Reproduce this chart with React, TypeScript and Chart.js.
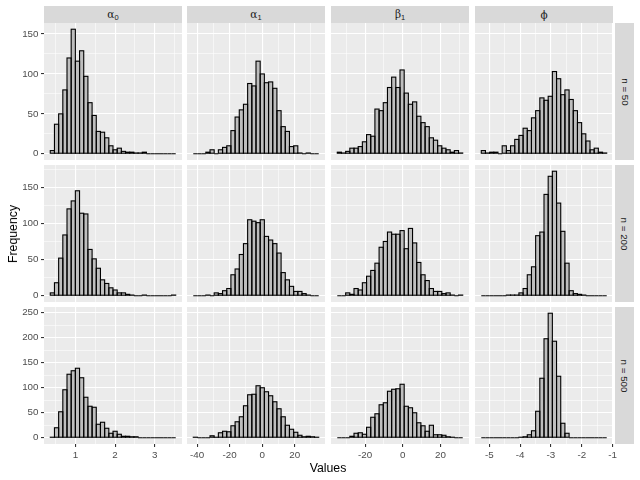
import React, { useEffect, useRef } from "react";
import { Chart, registerables } from "chart.js";

Chart.register(...registerables);

// ---------------- Data ----------------
const PARAM_SYMBOLS = ["α", "α", "β", "ϕ"];
const PARAM_SUBSCRIPTS = ["0", "1", "1", ""];
const SAMPLE_SIZES = ["n = 50", "n = 200", "n = 500"];
const X_TITLE = "Values";
const Y_TITLE = "Frequency";

// histogram bins per column (30 bins each)
const BIN_START = [0.364, -42.4, -34.8, -5.263];
const BIN_WIDTH = [0.1056, 2.573, 2.222, 0.1358];
const X_BREAK_STEP = [1, 20, 20, 1];
const Y_BREAK_STEP = [50, 50, 50];

const ALPHA0_N50 = [4, 37, 50, 80, 120, 156, 116, 129, 97, 64, 48, 28, 27, 20, 10, 5, 7, 3, 2, 2, 1, 1, 2, 0, 0, 0, 0, 0, 0, 0];
const ALPHA1_N50 = [0, 0, 0, 2, 5, 0, 5, 8, 10, 29, 46, 55, 62, 88, 85, 116, 100, 89, 90, 82, 54, 34, 28, 9, 10, 1, 0, 1, 0, 0];
const BETA1_N50 = [2, 1, 3, 7, 7, 9, 15, 24, 22, 56, 54, 64, 83, 96, 83, 105, 76, 62, 65, 47, 39, 34, 20, 17, 10, 7, 5, 2, 4, 1];
const PHI_N50 = [4, 1, 2, 2, 0, 10, 4, 10, 18, 23, 32, 29, 45, 54, 70, 67, 72, 103, 94, 74, 80, 68, 54, 39, 25, 16, 5, 7, 2, 1];

const ALPHA0_N200 = [4, 18, 52, 84, 120, 131, 145, 114, 113, 64, 51, 38, 22, 17, 11, 8, 4, 4, 2, 1, 0, 0, 1, 0, 0, 0, 0, 0, 0, 1];
const ALPHA1_N200 = [0, 0, 0, 1, 0, 4, 3, 7, 10, 29, 37, 57, 72, 105, 103, 101, 105, 82, 77, 72, 59, 32, 22, 13, 6, 6, 3, 1, 0, 0];
const BETA1_N200 = [0, 0, 4, 2, 10, 8, 18, 27, 35, 45, 67, 75, 88, 85, 85, 90, 65, 93, 73, 46, 29, 21, 10, 6, 6, 3, 4, 1, 0, 1];
const PHI_N200 = [0, 0, 0, 0, 0, 0, 1, 1, 1, 4, 10, 29, 40, 83, 88, 140, 165, 172, 128, 89, 45, 7, 3, 2, 1, 0, 0, 0, 0, 0];

const ALPHA0_N500 = [1, 20, 52, 96, 127, 134, 139, 120, 81, 63, 61, 27, 31, 19, 9, 13, 7, 3, 3, 2, 2, 0, 0, 0, 0, 0, 0, 0, 0, 0];
const ALPHA1_N500 = [1, 0, 0, 0, 4, 1, 10, 13, 12, 24, 32, 42, 64, 86, 87, 104, 100, 92, 84, 72, 58, 42, 25, 17, 11, 5, 2, 3, 2, 1];
const BETA1_N500 = [0, 0, 0, 3, 9, 10, 7, 21, 41, 48, 66, 70, 93, 97, 98, 107, 63, 60, 50, 30, 24, 13, 25, 6, 6, 5, 2, 1, 0, 0];
const PHI_N500 = [0, 0, 0, 0, 0, 0, 0, 0, 0, 1, 2, 6, 14, 53, 119, 198, 249, 193, 123, 29, 9, 0, 0, 0, 0, 0, 0, 0, 0, 0];

const COUNTS = [
  [ALPHA0_N50, ALPHA1_N50, BETA1_N50, PHI_N50],
  [ALPHA0_N200, ALPHA1_N200, BETA1_N200, PHI_N200],
  [ALPHA0_N500, ALPHA1_N500, BETA1_N500, PHI_N500],
];

// ---------------- Layout ----------------
const COL_LEFT = [44, 187, 331, 475];
const PANEL_W = 138;
const ROW_TOP = [23, 165, 307];
const PANEL_H = 137;
const Y_AXIS_W = 44;
const X_AXIS_H = 22;
const RIGHT_EXTRA = 8;

const SANS = "'Liberation Sans', Arial, Helvetica, sans-serif";
const GREEK = "'DejaVu Serif', 'Liberation Serif', serif";
const TICK_FONT = { family: SANS, size: 9.8 };

const panelBg = {
  id: "panelBg",
  beforeDraw(chart: any) {
    const { ctx, chartArea: a } = chart;
    ctx.save();
    ctx.fillStyle = "#EBEBEB";
    ctx.fillRect(a.left, a.top, a.right - a.left, a.bottom - a.top);
    ctx.restore();
  },
};

// ggplot-like centred outline around every bar element laid out by Chart.js
const barOutline = {
  id: "barOutline",
  afterDatasetsDraw(chart: any) {
    const { ctx } = chart;
    const meta = chart.getDatasetMeta(0);
    ctx.save();
    ctx.strokeStyle = "#000000";
    ctx.lineWidth = 1.1;
    meta.data.forEach((el: any) => {
      const { x, y, base, width } = el.getProps(["x", "y", "base", "width"], true);
      ctx.strokeRect(x - width / 2, Math.min(y, base), width, Math.abs(base - y));
    });
    ctx.restore();
  },
};

function breaks(min: number, max: number, step: number) {
  const half = step / 2;
  const out: number[] = [];
  for (let k = Math.ceil(min / half); k * half <= max; k++) out.push(k * half);
  return out;
}
const isMajor = (v: number, step: number) => Math.abs(v / step - Math.round(v / step)) < 1e-6;

function Panel({ col, row }: { col: number; row: number }) {
  const ref = useRef<HTMLCanvasElement>(null);
  const leftAxis = col === 0;
  const bottomAxis = row === 2;
  const extraRight = col === 3 && row === 2 ? RIGHT_EXTRA : 0;
  const width = PANEL_W + (leftAxis ? Y_AXIS_W : 0) + extraRight;
  const height = PANEL_H + (bottomAxis ? X_AXIS_H : 0);
  const left = COL_LEFT[col] - (leftAxis ? Y_AXIS_W : 0);
  const top = ROW_TOP[row];

  useEffect(() => {
    const counts = COUNTS[row][col];
    const start = BIN_START[col];
    const bw = BIN_WIDTH[col];
    const range = bw * counts.length;
    const xMin = start - 0.05 * range;
    const xMax = start + 1.05 * range;
    const rowMax = Math.max(...COUNTS[row].map((a) => Math.max(...a)));
    const yMin = -0.05 * rowMax;
    const yMax = 1.05 * rowMax;
    const xStep = X_BREAK_STEP[col];
    const yStep = Y_BREAK_STEP[row];
    const xTicks = breaks(xMin, xMax, xStep);
    const yTicks = breaks(yMin, yMax, yStep);

    const chart = new Chart(ref.current!, {
      type: "bar",
      data: {
        datasets: [
          {
            data: counts.map((c, i) => ({ x: start + bw * (i + 0.5), y: c })),
            backgroundColor: "#BEBEBE",
            borderWidth: 0,
            borderSkipped: false,
            inflateAmount: 0,
            barPercentage: 1,
            categoryPercentage: 1,
          } as any,
        ],
      },
      options: {
        responsive: false,
        animation: false,
        devicePixelRatio: 1,
        layout: { padding: { left: 0, top: 0, bottom: 0, right: extraRight } },
        plugins: { legend: { display: false }, tooltip: { enabled: false } },
        scales: {
          x: {
            type: "linear",
            min: xMin,
            max: xMax,
            offset: false,
            border: { display: false },
            grid: {
              offset: false,
              drawTicks: bottomAxis,
              tickLength: 3,
              color: "#FFFFFF",
              lineWidth: (ctx: any) => (isMajor(ctx.tick?.value ?? 0, xStep) ? 1.1 : 0.55),
              tickColor: (ctx: any) => (isMajor(ctx.tick?.value ?? 0, xStep) ? "#333333" : "rgba(0,0,0,0)"),
              tickWidth: 1.1,
            },
            ticks: {
              display: bottomAxis,
              autoSkip: false,
              maxRotation: 0,
              minRotation: 0,
              padding: 2.5,
              color: "#4D4D4D",
              font: TICK_FONT,
              callback: (v: any) => (isMajor(Number(v), xStep) ? String(Math.round(Number(v))) : ""),
            },
            afterBuildTicks: (s: any) => {
              s.ticks = xTicks.map((v) => ({ value: v }));
            },
            afterFit: (s: any) => {
              s.height = bottomAxis ? X_AXIS_H : 0;
              s.paddingLeft = 0;
              s.paddingRight = 0;
              s.paddingTop = 0;
              s.paddingBottom = 0;
            },
          },
          y: {
            type: "linear",
            min: yMin,
            max: yMax,
            border: { display: false },
            grid: {
              drawTicks: leftAxis,
              tickLength: 3,
              color: "#FFFFFF",
              lineWidth: (ctx: any) => (isMajor(ctx.tick?.value ?? 0, yStep) ? 1.1 : 0.55),
              tickColor: (ctx: any) => (isMajor(ctx.tick?.value ?? 0, yStep) ? "#333333" : "rgba(0,0,0,0)"),
              tickWidth: 1.1,
            },
            ticks: {
              display: leftAxis,
              autoSkip: false,
              padding: 2.5,
              color: "#4D4D4D",
              font: TICK_FONT,
              callback: (v: any) => (isMajor(Number(v), yStep) ? String(Math.round(Number(v))) : ""),
            },
            afterBuildTicks: (s: any) => {
              s.ticks = yTicks.map((v) => ({ value: v }));
            },
            afterFit: (s: any) => {
              s.width = leftAxis ? Y_AXIS_W : 0;
              s.paddingLeft = 0;
              s.paddingRight = 0;
              s.paddingTop = 0;
              s.paddingBottom = 0;
            },
          },
        },
      } as any,
      plugins: [panelBg, barOutline],
    });
    return () => chart.destroy();
  }, [col, row]);

  return (
    <canvas
      ref={ref}
      width={width}
      height={height}
      style={{ position: "absolute", left, top, width, height }}
    />
  );
}

export default function App() {
  const panels = [];
  for (let r = 0; r < 3; r++) for (let c = 0; c < 4; c++) panels.push(<Panel key={`${r}-${c}`} col={c} row={r} />);
  return (
    <div
      style={{
        position: "absolute",
        left: 0,
        top: 0,
        width: 640,
        height: 480,
        background: "#FFFFFF",
        fontFamily: SANS,
        overflow: "hidden",
      }}
    >
      {PARAM_SYMBOLS.map((s, c) => (
        <div
          key={"ts" + c}
          style={{
            position: "absolute",
            left: COL_LEFT[c],
            top: 6,
            width: PANEL_W,
            height: 17,
            background: "#D9D9D9",
            color: "#1A1A1A",
            display: "flex",
            alignItems: "center",
            justifyContent: "center",
            fontSize: 10.5,
            fontFamily: GREEK,
          }}
        >
          <span>
            {s}
            {PARAM_SUBSCRIPTS[c] ? (
              <span style={{ fontSize: 7.5, fontFamily: SANS, verticalAlign: "-2px" }}>{PARAM_SUBSCRIPTS[c]}</span>
            ) : null}
          </span>
        </div>
      ))}
      {SAMPLE_SIZES.map((t, r) => (
        <div
          key={"rs" + r}
          style={{
            position: "absolute",
            left: 615,
            top: ROW_TOP[r],
            width: 19,
            height: PANEL_H,
            background: "#D9D9D9",
            color: "#1A1A1A",
            display: "flex",
            alignItems: "center",
            justifyContent: "center",
          }}
        >
          <span style={{ transform: "rotate(90deg)", whiteSpace: "nowrap", fontSize: 9.8, lineHeight: "10px" }}>{t}</span>
        </div>
      ))}
      {panels}
      <div
        style={{
          position: "absolute",
          left: 13,
          top: 233.5,
          transform: "translate(-50%, -50%) rotate(-90deg)",
          whiteSpace: "nowrap",
          fontSize: 12.3,
          lineHeight: "14px",
          color: "#000000",
        }}
      >
        {Y_TITLE}
      </div>
      <div
        style={{
          position: "absolute",
          left: 328,
          top: 467.5,
          transform: "translate(-50%, -50%)",
          whiteSpace: "nowrap",
          fontSize: 12.3,
          lineHeight: "14px",
          color: "#000000",
        }}
      >
        {X_TITLE}
      </div>
    </div>
  );
}
